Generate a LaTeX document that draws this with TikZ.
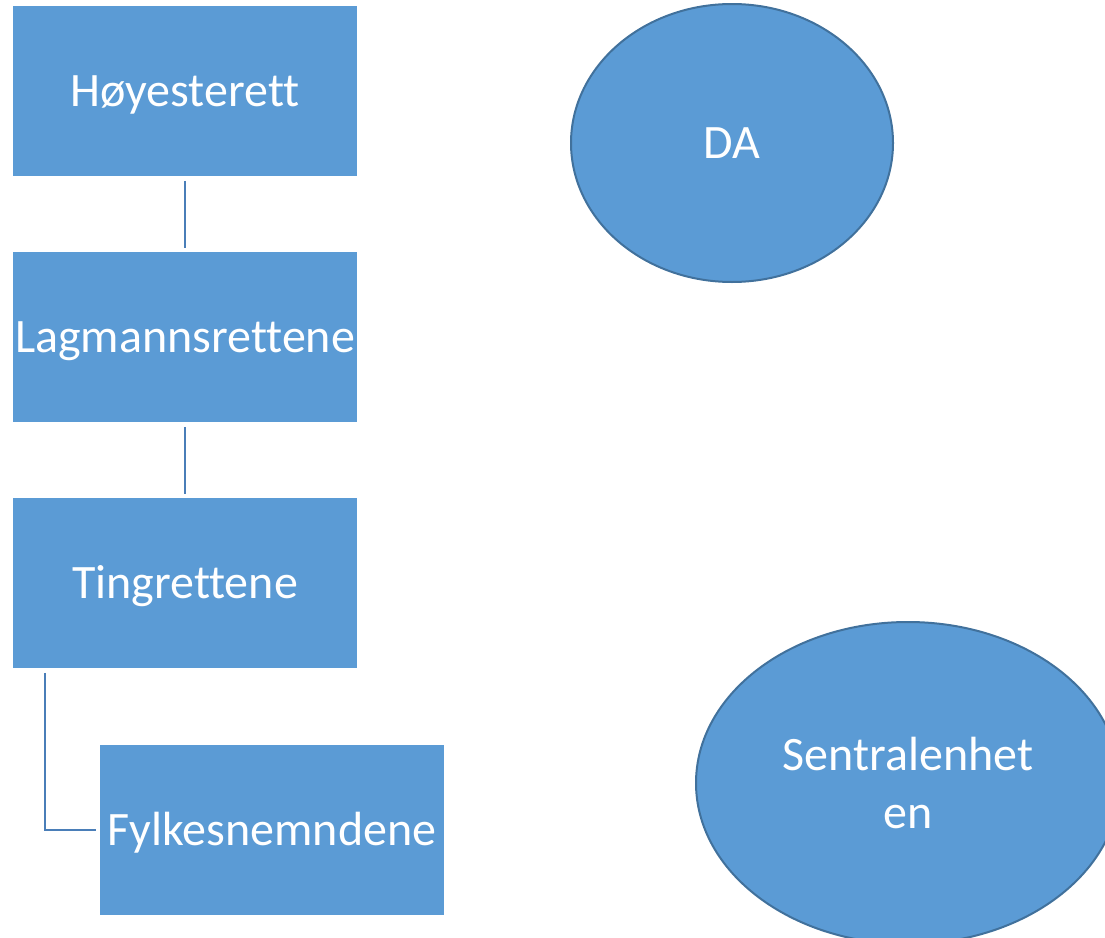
\documentclass[tikz,border=0pt]{standalone}
\usepackage{fontspec}
\setmainfont[Ligatures={NoCommon}]{Carlito}
\usetikzlibrary{shapes.geometric}
\definecolor{boxfill}{HTML}{5B9BD5}
\definecolor{boxline}{HTML}{41719C}
\definecolor{linkcol}{HTML}{4A7EB8}
\begin{document}
\begin{tikzpicture}[x=1pt,y=-1pt,
  orgbox/.style={rectangle, fill=boxfill, draw=white, line width=0.6pt,
    minimum width=345pt, minimum height=171pt, inner sep=0pt,
    text=white, text height=31pt, text depth=0pt,
    font=\fontsize{48}{58}\selectfont},
  oval/.style={ellipse, fill=boxfill, draw=boxline, line width=2pt,
    inner sep=0pt, text=white, align=center,
    font=\fontsize{48}{58}\selectfont},
  link/.style={draw=linkcol, line width=2.4pt, shorten <=4pt, shorten >=3pt}]
\useasboundingbox (0,0) rectangle (1105,937);
\clip (0,0) rectangle (1105,937);

% court hierarchy
\node[orgbox] (hr) at (185,91)  {Høyesterett};
\node[orgbox] (lr) at (185,337) {Lagmannsrettene};
\node[orgbox] (tr) at (185,583) {Tingrettene};
\node[orgbox] (fn) at (272,830) {Fylkesnemndene};

\draw[link] (hr.south) -- (lr.north);
\draw[link] (lr.south) -- (tr.north);
\draw[link] ([xshift=33pt]tr.south west) |- (fn.west);

% separate bodies
\node[oval, minimum width=322pt, minimum height=278pt] (da) at (732,143) {DA};
\node[oval, minimum width=424pt, minimum height=322pt] (se) at (908,783) {Sentralenhet\\en};
\end{tikzpicture}
\end{document}
